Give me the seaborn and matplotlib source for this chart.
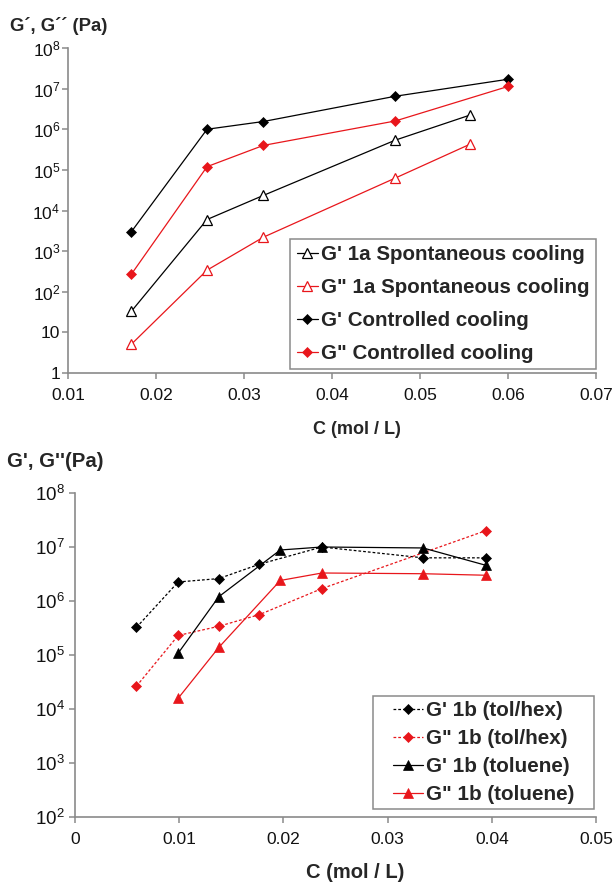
import matplotlib
matplotlib.use("Agg")
import matplotlib.pyplot as plt
import matplotlib.ticker as mticker
from matplotlib.legend_handler import HandlerLine2D
from matplotlib.lines import Line2D
from matplotlib.patches import Rectangle
import seaborn as sns

# ---------------- data: top panel (compound 1a / controlled cooling) ----------------
c_1a = [0.0172, 0.0258, 0.0322, 0.0472, 0.0557]
g1_1a = [33, 6.0e3, 2.35e4, 5.4e5, 2.24e6]
g2_1a = [5.1, 3.4e2, 2.2e3, 6.3e4, 4.3e5]
c_ctrl = [0.0172, 0.0258, 0.0322, 0.0472, 0.0600]
g1_ctrl = [3.0e3, 1.0e6, 1.55e6, 6.5e6, 1.7e7]
g2_ctrl = [2.7e2, 1.2e5, 4.0e5, 1.6e6, 1.13e7]

# ---------------- data: bottom panel (compound 1b) ----------------
c_tolhex = [0.0059, 0.0099, 0.0138, 0.0177, 0.0237, 0.0334, 0.0394]
g1_tolhex = [3.25e5, 2.25e6, 2.6e6, 4.8e6, 1.0e7, 6.3e6, 6.3e6]
c_tolhex2 = [0.0059, 0.0099, 0.0138, 0.0177, 0.0237, 0.0394]
g2_tolhex = [2.65e4, 2.3e5, 3.4e5, 5.6e5, 1.7e6, 2.0e7]
c_tol = [0.0099, 0.0138, 0.0197, 0.0237, 0.0334, 0.0394]
g1_tol = [1.08e5, 1.2e6, 8.8e6, 1.0e7, 9.6e6, 4.6e6]
g2_tol = [1.58e4, 1.38e5, 2.4e6, 3.3e6, 3.2e6, 3.0e6]

labels_top = ["G' 1a Spontaneous cooling", 'G" 1a Spontaneous cooling',
              "G' Controlled cooling", 'G" Controlled cooling']
labels_bot = ["G' 1b (tol/hex)", 'G" 1b (tol/hex)', "G' 1b (toluene)", 'G" 1b (toluene)']

xticks_top = [0.01, 0.02, 0.03, 0.04, 0.05, 0.06, 0.07]
xticklabels_top = ["0.01", "0.02", "0.03", "0.04", "0.05", "0.06", "0.07"]
yticks_top = [1, 1e1, 1e2, 1e3, 1e4, 1e5, 1e6, 1e7, 1e8]
yticklabels_top = ["1", "10", "10$^{2}$", "10$^{3}$", "10$^{4}$", "10$^{5}$",
                   "10$^{6}$", "10$^{7}$", "10$^{8}$"]
xticks_bot = [0, 0.01, 0.02, 0.03, 0.04, 0.05]
xticklabels_bot = ["0", "0.01", "0.02", "0.03", "0.04", "0.05"]
yticks_bot = [1e2, 1e3, 1e4, 1e5, 1e6, 1e7, 1e8]
yticklabels_bot = ["10$^{2}$", "10$^{3}$", "10$^{4}$", "10$^{5}$", "10$^{6}$",
                   "10$^{7}$", "10$^{8}$"]

sns.set_theme(style="ticks")
plt.rcParams["font.family"] = ["Liberation Sans", "DejaVu Sans"]
plt.rcParams["mathtext.fontset"] = "custom"
plt.rcParams["mathtext.rm"] = "Liberation Sans"
plt.rcParams["mathtext.default"] = "regular"

RED = "#e8161b"
GREY = "#8a8a8a"
W, H = 614, 885

fig = plt.figure(figsize=(W / 100, H / 100), dpi=100)
ax1 = fig.add_axes([68 / W, 1 - 373 / H, 528 / W, 325 / H])
ax2 = fig.add_axes([75 / W, 1 - 817 / H, 521 / W, 324 / H])

for ax in (ax1, ax2):
    ax.set_yscale("log")

lw = 0.9
# top panel
sns.lineplot(x=c_1a, y=g1_1a, ax=ax1, color="black", lw=lw, marker="^", markersize=7,
             markerfacecolor="white", markeredgecolor="black", markeredgewidth=0.9,
             label=labels_top[0])
sns.lineplot(x=c_1a, y=g2_1a, ax=ax1, color=RED, lw=lw, marker="^", markersize=7,
             markerfacecolor="white", markeredgecolor=RED, markeredgewidth=0.9,
             label=labels_top[1])
sns.lineplot(x=c_ctrl, y=g1_ctrl, ax=ax1, color="black", lw=lw, marker="D", markersize=5.5,
             markerfacecolor="black", markeredgecolor="black", markeredgewidth=0.5,
             label=labels_top[2])
sns.lineplot(x=c_ctrl, y=g2_ctrl, ax=ax1, color=RED, lw=lw, marker="D", markersize=5.5,
             markerfacecolor=RED, markeredgecolor=RED, markeredgewidth=0.5,
             label=labels_top[3])

# bottom panel
dash = (2.2, 1.6)
sns.lineplot(x=c_tolhex, y=g1_tolhex, ax=ax2, color="black", lw=lw, marker="D", markersize=5.5,
             markerfacecolor="black", markeredgecolor="black", markeredgewidth=0.5,
             dashes=dash, label=labels_bot[0])
sns.lineplot(x=c_tolhex2, y=g2_tolhex, ax=ax2, color=RED, lw=lw, marker="D", markersize=5.5,
             markerfacecolor=RED, markeredgecolor=RED, markeredgewidth=0.5,
             dashes=dash, label=labels_bot[1])
sns.lineplot(x=c_tol, y=g1_tol, ax=ax2, color="black", lw=lw, marker="^", markersize=7.5,
             markerfacecolor="black", markeredgecolor="black", markeredgewidth=0.5,
             label=labels_bot[2])
sns.lineplot(x=c_tol, y=g2_tol, ax=ax2, color=RED, lw=lw, marker="^", markersize=7.5,
             markerfacecolor=RED, markeredgecolor=RED, markeredgewidth=0.5,
             label=labels_bot[3])

# axes styling
def style(ax, xlim, ylim, xt, xtl, yt, ytl, ypad, ysize):
    ax.set_xlim(*xlim)
    ax.set_ylim(*ylim)
    ax.set_xticks(xt)
    ax.set_xticklabels(xtl)
    ax.set_yticks(yt)
    ax.set_yticklabels(ytl)
    ax.yaxis.set_minor_locator(mticker.NullLocator())
    ax.xaxis.set_minor_locator(mticker.NullLocator())
    for s in ("top", "right"):
        ax.spines[s].set_visible(False)
    for s in ("left", "bottom"):
        ax.spines[s].set_color(GREY)
        ax.spines[s].set_linewidth(1.2)
    ax.tick_params(axis="both", colors=GREY, length=4, width=1.1, labelcolor="#111111",
                   labelsize=12.5, direction="out")
    ax.tick_params(axis="x", pad=7)
    ax.tick_params(axis="y", pad=ypad, labelsize=ysize)
    ax.set_facecolor("white")

style(ax1, (0.01, 0.07), (1, 1e8), xticks_top, xticklabels_top, yticks_top, yticklabels_top,
      1.5, 12.5)
style(ax2, (0, 0.05), (1e2, 1e8), xticks_bot, xticklabels_bot, yticks_bot, yticklabels_bot,
      3.5, 13.5)

# axis labels
ax1.set_xlabel("C (mol / L)", fontsize=13, fontweight="bold")
ax1.xaxis.set_label_coords((357 - 68) / 528, (373 - 429) / 325)
ax1.xaxis.label.set_va("center")
ax1.set_ylabel("G\u00b4, G\u00b4\u00b4 (Pa)", fontsize=13.3, fontweight="bold", rotation=0,
               ha="left", va="center")
ax1.yaxis.set_label_coords((10 - 68) / 528, (373 - 26) / 325)

ax2.set_xlabel("C (mol / L)", fontsize=14.5, fontweight="bold")
ax2.xaxis.set_label_coords((355 - 75) / 521, (817 - 873) / 324)
ax2.xaxis.label.set_va("center")
ax2.set_ylabel("G', G''(Pa)", fontsize=14.7, fontweight="bold", rotation=0,
               ha="left", va="center")
ax2.yaxis.set_label_coords((7 - 75) / 521, (817 - 462) / 324)

# legends
leg1 = ax1.legend(loc="lower right", bbox_to_anchor=(596 / W, 1 - 369 / H),
                  bbox_transform=fig.transFigure, borderaxespad=0, fancybox=False,
                  frameon=True, edgecolor=GREY, framealpha=1,
                  prop={"size": 14.8, "weight": "bold"}, handlelength=1.05,
                  handletextpad=0.15, borderpad=0.3, labelspacing=0.68,
                  handler_map={Line2D: HandlerLine2D(xpad=0.0)})
leg1.get_frame().set_linewidth(1.1)

leg2 = ax2.legend(loc="lower right", bbox_to_anchor=(579 / W, 1 - 809 / H),
                  bbox_transform=fig.transFigure, borderaxespad=0,
                  frameon=False,
                  prop={"size": 14.9, "weight": "bold"}, handlelength=2.17,
                  handletextpad=0.15, borderpad=0.24, labelspacing=0.43,
                  handler_map={Line2D: HandlerLine2D(xpad=0.72)})
ax2.add_patch(Rectangle((373 / W, 1 - 809 / H), (594 - 373) / W, (809 - 696) / H,
                        transform=fig.transFigure, facecolor="white", edgecolor=GREY,
                        linewidth=1.1, zorder=4, clip_on=False))

fig.savefig("out.png", dpi=100, facecolor="white")
